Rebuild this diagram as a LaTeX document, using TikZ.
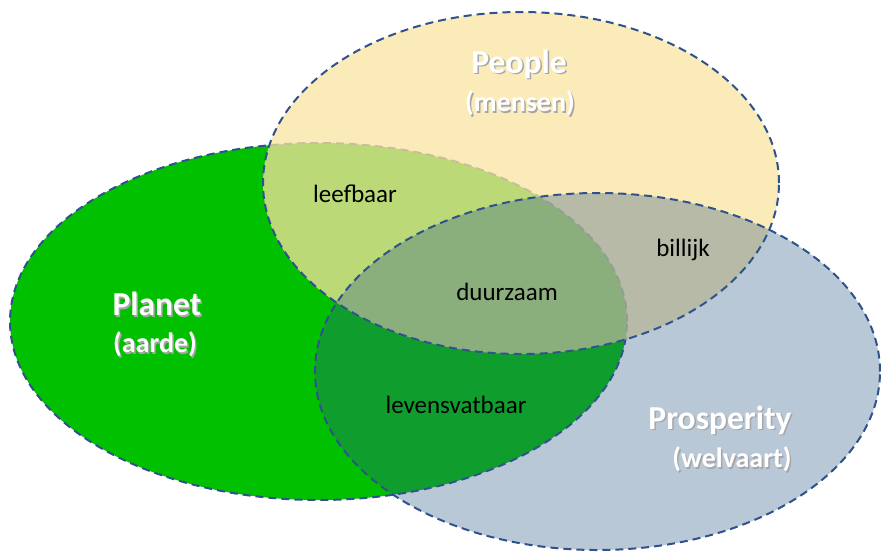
\documentclass[tikz,border=0pt]{standalone}
\usepackage{fontspec}
\setmainfont{Carlito}
\usetikzlibrary{shapes.geometric}
\definecolor{planetgreen}{RGB}{0,192,0}
\definecolor{peoplefill}{RGB}{250,228,160}
\definecolor{prospfill}{RGB}{45,90,135}
\definecolor{vennline}{RGB}{47,82,143}
\newcommand{\shtxt}[1]{\makebox[0pt][l]{\hspace{1.5pt}\raisebox{-1.5pt}{\textcolor{black!35}{#1}}}#1}
\begin{document}
\begin{tikzpicture}[x=1pt,y=-1pt,
  venn/.style={ellipse, draw=vennline, line width=2pt, dash pattern=on 8pt off 5pt, inner sep=0pt},
  title/.style={text=white, font=\bfseries\fontsize{33.5}{38}\selectfont, inner sep=0pt},
  sub/.style={text=white, font=\bfseries\fontsize{28}{32}\selectfont, inner sep=0pt},
  lbl/.style={text=black, font=\fontsize{25}{29}\selectfont, inner sep=0pt}]
\useasboundingbox (0,0) rectangle (882,552);
\node[venn, fill=planetgreen, minimum width=617pt, minimum height=357pt] (planet) at (318.5,321.5) {};
\node[venn, fill=peoplefill, fill opacity=0.75, minimum width=516pt, minimum height=342pt] (people) at (521,183) {};
\node[venn, fill=prospfill, fill opacity=0.333, minimum width=565pt, minimum height=357pt] (prosperity) at (597.5,371.5) {};
\node[title] (peoplet) at (519,65) {\shtxt{People}};
\node[sub] (peoples) at (520,104) {\shtxt{(mensen)}};
\node[title] (planett) at (157,305) {\shtxt{Planet}};
\node[sub] (planets) at (155,345) {\shtxt{(aarde)}};
\node[title] (prospt) at (720,421) {\shtxt{Prosperity}};
\node[sub] (prosps) at (732,460) {\shtxt{(welvaart)}};
\node[lbl] (leef) at (355,194) {leefbaar};
\node[lbl] (duur) at (507,292) {duurzaam};
\node[lbl] (bill) at (683,250) {billijk};
\node[lbl] (lev) at (456,405) {levensvatbaar};
\end{tikzpicture}
\end{document}
